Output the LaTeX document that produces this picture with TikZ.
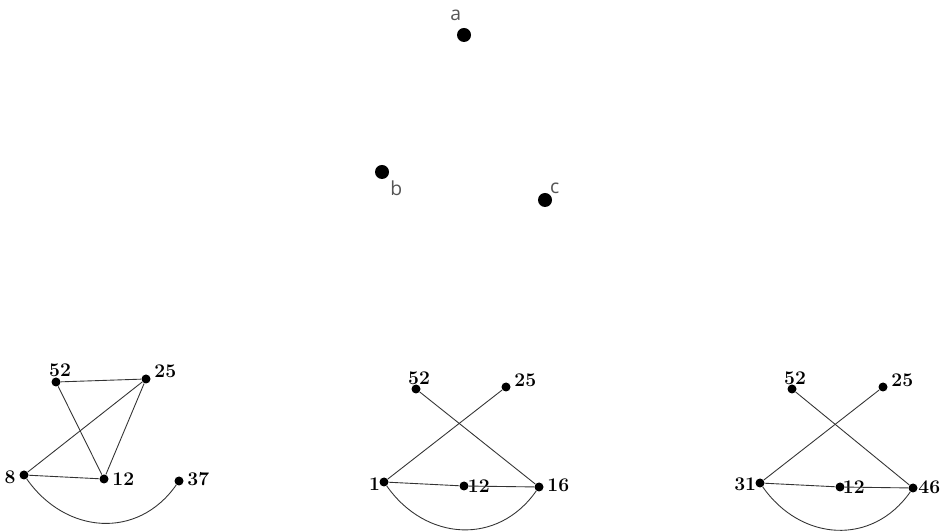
\documentclass[tikz,border=0pt]{standalone}
\usepackage{fontspec}
\usepackage{tikz}
\usetikzlibrary{positioning}
\newfontfamily\toplblfont{Open Sans}
\definecolor{dotblack}{HTML}{000000}
\definecolor{lblgray}{HTML}{555555}
\definecolor{edgegray}{HTML}{333333}
\tikzset{
  bigdot/.style={circle, fill=dotblack, inner sep=0pt, minimum size=2.8mm},
  smalldot/.style={circle, fill=dotblack, inner sep=0pt, minimum size=1.8mm},
  toplbl/.style={font=\toplblfont\fontsize{11}{13}\selectfont, text=lblgray, inner sep=1pt},
  numlbl/.style={font=\fontsize{11}{13}\selectfont\bfseries, inner sep=1pt, label distance=0.3mm},
  edge/.style={line width=.5pt, draw=edgegray},
  arc/.style={edge, looseness=1.15},
}
\begin{document}
\begin{tikzpicture}[x=0.2mm, y=-0.2mm]
    \useasboundingbox (0,0) rectangle (941,531);
    % top triangle of points
    \node[bigdot, label={[toplbl, label distance=1mm]94:a}] (a) at (464,35) {};
    \node[bigdot, label={[toplbl, label distance=0.3mm]-45:b}] (b) at (382,172) {};
    \node[bigdot, label={[toplbl, label distance=-0.5mm]50:c}] (c) at (545,200) {};

    % left graph
    \node[smalldot, label={[numlbl, xshift=0.8mm, label distance=-0.4mm]above:52}] (l52) at (56,382) {};
    \node[smalldot, label={[numlbl, yshift=1.5mm]right:25}] (l25) at (146,379) {};
    \node[smalldot, label={[numlbl, yshift=-0.5mm]left:8}] (l8) at (24,475) {};
    \node[smalldot, label={[numlbl]right:12}] (l12) at (104,479) {};
    \node[smalldot, label={[numlbl, yshift=0.3mm]right:37}] (l37) at (179,481) {};
    \draw[edge] (l52) -- (l25);
    \draw[edge] (l52) -- (l12);
    \draw[edge] (l25) -- (l12);
    \draw[edge] (l25) -- (l8);
    \draw[edge] (l8) -- (l12);
    \draw[arc] (l8) to[out=-55, in=-125] (l37);

    % middle graph
    \node[smalldot, label={[numlbl, xshift=0.6mm, label distance=-0.6mm]above:52}] (m52) at (416,389) {};
    \node[smalldot, label={[numlbl, yshift=1.3mm]right:25}] (m25) at (506,387) {};
    \node[smalldot, label={[numlbl, label distance=-0.6mm, yshift=-0.5mm]left:1}] (m1) at (384,482) {};
    \node[smalldot, label={[numlbl, label distance=-0.6mm]right:12}] (m12) at (464,486) {};
    \node[smalldot, label={[numlbl, yshift=0.3mm]right:16}] (m16) at (539,487) {};
    \draw[edge] (m52) -- (m16);
    \draw[edge] (m25) -- (m1);
    \draw[edge] (m1) -- (m12);
    \draw[edge] (m12) -- (m16);
    \draw[arc] (m1) to[out=-55, in=-125] (m16);

    % right graph
    \node[smalldot, label={[numlbl, xshift=0.6mm, label distance=-0.6mm]above:52}] (r52) at (792,389) {};
    \node[smalldot, label={[numlbl, yshift=1.3mm]right:25}] (r25) at (883,387) {};
    \node[smalldot, label={[numlbl, label distance=-0.6mm, yshift=-0.3mm]left:31}] (r31) at (760,483) {};
    \node[smalldot, label={[numlbl, label distance=-0.8mm]right:12}] (r12) at (840,487) {};
    \node[smalldot, label={[numlbl, label distance=-0.3mm, yshift=0.2mm]right:46}] (r46) at (913,488) {};
    \draw[edge] (r52) -- (r46);
    \draw[edge] (r25) -- (r31);
    \draw[edge] (r31) -- (r12);
    \draw[edge] (r12) -- (r46);
    \draw[arc] (r31) to[out=-55, in=-125] (r46);
\end{tikzpicture}
\end{document}
